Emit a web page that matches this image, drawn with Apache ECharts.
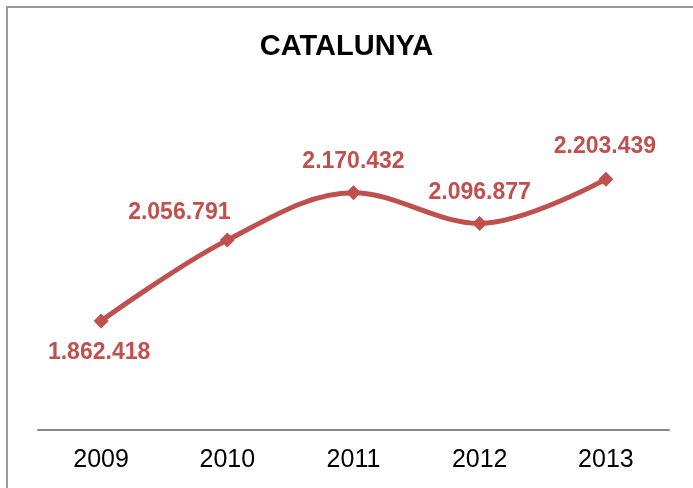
<!DOCTYPE html>
<html>
<head>
<meta charset="utf-8">
<script src="https://cdn.jsdelivr.net/npm/echarts@6/dist/echarts.min.js"></script>
<style>
html,body{margin:0;padding:0;background:#fff;}
#chart{width:693px;height:488px;}
</style>
</head>
<body>
<div id="chart"></div>
<script>
const chartTitle = 'CATALUNYA';
const years = ['2009', '2010', '2011', '2012', '2013'];
const values = [1862418, 2056791, 2170432, 2096877, 2203439];
const labelOffsets = [[-2, 32], [-48, -27], [0, -31], [0, -31], [-1, -32]];

function fmt(v) {
  return String(v).replace(/\B(?=(\d{3})+(?!\d))/g, '.');
}

const chart = echarts.init(document.getElementById('chart'), null, {renderer: 'canvas'});
const red = '#C0504D';
chart.setOption({
  animation: false,
  backgroundColor: '#fff',
  graphic: [{
    type: 'rect',
    shape: {x: 7, y: 7, width: 720, height: 520},
    style: {fill: 'none', stroke: '#999', lineWidth: 2},
    silent: true
  }],
  title: {
    text: chartTitle,
    left: 'center',
    top: 32,
    padding: 0,
    textStyle: {fontFamily: 'Liberation Sans, Arial', fontWeight: 'bold', fontSize: 29, color: '#000'}
  },
  grid: {left: 38, right: 24, top: 139, bottom: 58},
  xAxis: {
    type: 'category',
    data: years,
    boundaryGap: true,
    axisLine: {lineStyle: {color: '#888', width: 2}},
    axisTick: {show: false},
    axisLabel: {fontFamily: 'Liberation Sans, Arial', fontSize: 25, color: '#000', margin: 18}
  },
  yAxis: {
    type: 'value',
    min: 1600000,
    max: 2300000,
    interval: 100000,
    show: false,
    splitLine: {show: false}
  },
  series: [{
    type: 'line',
    smooth: 0.35,
    data: values.map((v, i) => ({
      value: v,
      label: {offset: labelOffsets[i]}
    })),
    symbol: 'diamond',
    symbolSize: 15,
    lineStyle: {color: red, width: 5},
    itemStyle: {color: red},
    label: {
      show: true,
      position: 'inside',
      formatter: p => fmt(p.value),
      fontFamily: 'Liberation Sans, Arial',
      fontWeight: 'bold',
      fontSize: 23,
      color: red
    }
  }]
});
</script>
</body>
</html>
